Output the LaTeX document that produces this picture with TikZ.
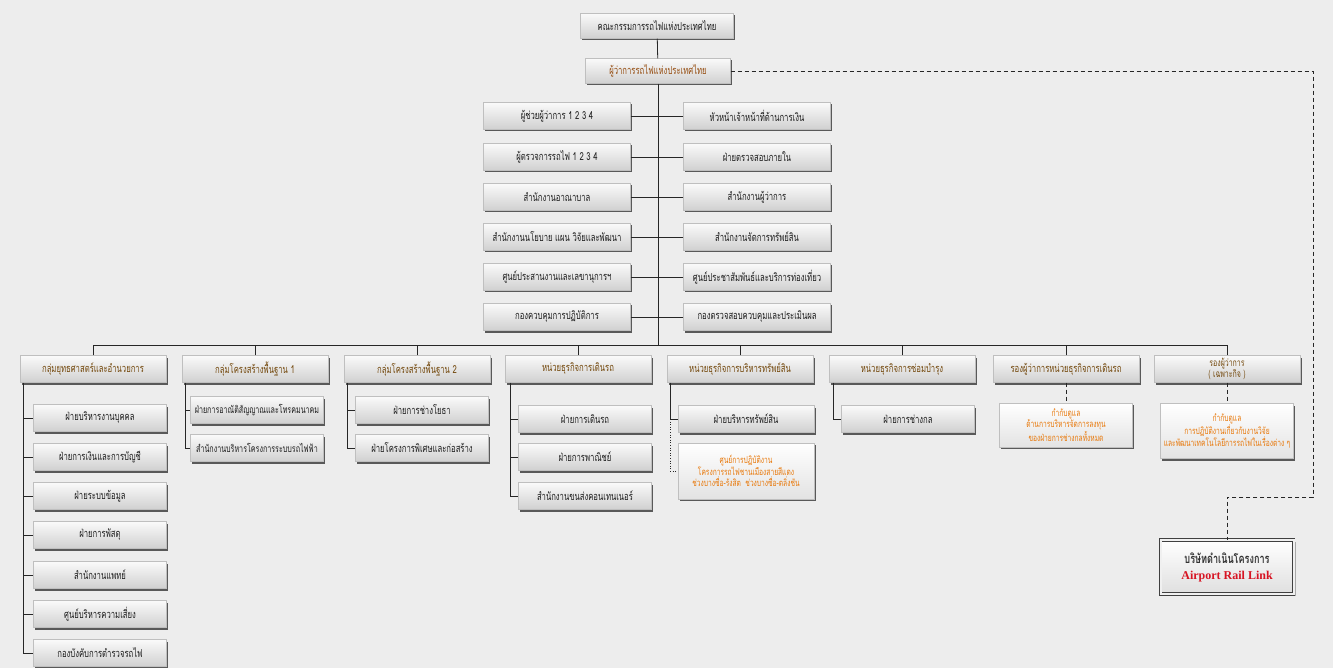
\documentclass[tikz,border=0pt]{standalone}
\usepackage{fontspec}
\newfontfamily\thaifont[Script=Thai,FakeStretch=0.7]{Loma}
\newfontfamily\enserif{Liberation Serif}
\usetikzlibrary{shadows}
\definecolor{bg}{RGB}{237,237,237}
\definecolor{headtxt}{RGB}{115,72,12}
\definecolor{govtxt}{RGB}{150,78,18}
\definecolor{orgtxt}{RGB}{232,120,10}
\definecolor{redtxt}{RGB}{215,20,35}
\definecolor{boxtop}{RGB}{250,250,250}
\definecolor{boxbot}{RGB}{208,208,208}
\tikzset{
  unit/.style={draw=gray!50, line width=0.4pt, top color=boxtop, bottom color=boxbot,
    drop shadow={shadow xshift=1.8pt, shadow yshift=-2pt, fill=black!75, opacity=0.85},
    minimum height=27pt, inner sep=1pt, text=black!88, align=center,
    font=\thaifont\fontsize{11}{12}\selectfont},
  topbox/.style={unit, minimum width=153pt, minimum height=25pt},
  mid/.style={unit, minimum width=147pt},
  head/.style={unit, minimum width=146pt, text=headtxt},
  sub/.style={unit, minimum width=133pt},
  note/.style={unit, minimum width=133pt, text=orgtxt, top color=white, bottom color=gray!22,
    font=\thaifont\fontsize{9.5}{11}\selectfont},
  link/.style={line width=0.8pt, draw=black!85},
  dlink/.style={link, dash pattern=on 4pt off 3pt},
  dotlink/.style={link, dash pattern=on 1pt off 1.6pt},
}
\begin{document}
\begin{tikzpicture}[x=1pt,y=-1pt]
\fill[bg] (0,0) rectangle (1333,668);
\useasboundingbox (0,0) rectangle (1333,668);

% top
\node[topbox] (board) at (657,26) {คณะกรรมการรถไฟแห่งประเทศไทย};
\node[topbox, minimum width=145pt, text=govtxt] (gov) at (658,71) {ผู้ว่าการรถไฟแห่งประเทศไทย};
\coordinate (bus) at (658,345);

% middle columns
\node[mid] (L1) at (557,116) {ผู้ช่วยผู้ว่าการ 1 2 3 4};
\node[mid] (L2) at (557,157) {ผู้ตรวจการรถไฟ 1 2 3 4};
\node[mid] (L3) at (557,197) {สำนักงานอาณาบาล};
\node[mid] (L4) at (557,237) {สำนักงานนโยบาย แผน วิจัยและพัฒนา};
\node[mid] (L5) at (557,277) {ศูนย์ประสานงานและเลขานุการฯ};
\node[mid] (L6) at (557,317) {กองควบคุมการปฏิบัติการ};
\node[mid] (R1) at (757,116) {หัวหน้าเจ้าหน้าที่ด้านการเงิน};
\node[mid] (R2) at (757,157) {ฝ่ายตรวจสอบภายใน};
\node[mid] (R3) at (757,197) {สำนักงานผู้ว่าการ};
\node[mid] (R4) at (757,237) {สำนักงานจัดการทรัพย์สิน};
\node[mid] (R5) at (757,277) {ศูนย์ประชาสัมพันธ์และบริการท่องเที่ยว};
\node[mid] (R6) at (757,317) {กองตรวจสอบควบคุมและประเมินผล};

% heads
\node[head] (h1) at (93,369) {กลุ่มยุทธศาสตร์และอำนวยการ};
\node[head] (h2) at (255,369) {กลุ่มโครงสร้างพื้นฐาน 1};
\node[head] (h3) at (417,369) {กลุ่มโครงสร้างพื้นฐาน 2};
\node[head] (h4) at (578,369) {หน่วยธุรกิจการเดินรถ};
\node[head] (h5) at (740,369) {หน่วยธุรกิจการบริหารทรัพย์สิน};
\node[head] (h6) at (902,369) {หน่วยธุรกิจการซ่อมบำรุง};
\node[head] (h7) at (1066,369) {รองผู้ว่าการหน่วยธุรกิจการเดินรถ};
\node[head, font=\thaifont\fontsize{10}{10.5}\selectfont] (h8) at (1227,369) {รองผู้ว่าการ\\( เฉพาะกิจ )};

% column 1
\coordinate (v1) at (23,0);
\node[sub] (c11) at (100,418) {ฝ่ายบริหารงานบุคคล};
\node[sub] (c12) at (100,457) {ฝ่ายการเงินและการบัญชี};
\node[sub] (c13) at (100,496) {ฝ่ายระบบข้อมูล};
\node[sub] (c14) at (100,535) {ฝ่ายการพัสดุ};
\node[sub] (c15) at (100,575) {สำนักงานแพทย์};
\node[sub] (c16) at (100,614) {ศูนย์บริหารความเสี่ยง};
\node[sub] (c17) at (100,653) {กองบังคับการตำรวจรถไฟ};
% column 2
\coordinate (v2) at (185,0);
\node[sub, font=\thaifont\fontsize{10.2}{12}\selectfont] (c21) at (257,410) {ฝ่ายการอาณัติสัญญาณและโทรคมนาคม};
\node[sub, font=\thaifont\fontsize{10.2}{12}\selectfont] (c22) at (257,448) {สำนักงานบริหารโครงการระบบรถไฟฟ้า};
% column 3
\coordinate (v3) at (347,0);
\node[sub] (c31) at (422,410) {ฝ่ายการช่างโยธา};
\node[sub] (c32) at (422,448) {ฝ่ายโครงการพิเศษและก่อสร้าง};
% column 4
\coordinate (v4) at (510,0);
\node[sub] (c41) at (585,419) {ฝ่ายการเดินรถ};
\node[sub] (c42) at (585,457) {ฝ่ายการพาณิชย์};
\node[sub] (c43) at (585,496) {สำนักงานขนส่งคอนเทนเนอร์};
% column 5
\coordinate (v5) at (670,0);
\node[sub, minimum width=136pt] (c51) at (746,419) {ฝ่ายบริหารทรัพย์สิน};
\node[note, minimum width=136pt, minimum height=56pt] (n5) at (746,471) {ศูนย์การปฏิบัติงาน\\โครงการรถไฟชานเมืองสายสีแดง\\ช่วงบางซื่อ-รังสิต~~ช่วงบางซื่อ-ตลิ่งชัน};
% column 6
\coordinate (v6) at (833,0);
\node[sub] (c61) at (908,419) {ฝ่ายการช่างกล};
% column 7, 8
\node[note, minimum height=44pt] (n7) at (1066,425) {กำกับดูแล\\ด้านการบริหารจัดการลงทุน\\ของฝ่ายการช่างกลทั้งหมด};
\node[note, minimum height=55pt] (n8) at (1227,431) {กำกับดูแล\\การปฏิบัติงานเกี่ยวกับงานวิจัย\\และพัฒนาเทคโนโลยีการรถไฟในเรื่องต่าง ๆ};

% airport rail link
\node[draw=black!75, line width=0.6pt, double=gray!12, double distance=2pt,
  top color=white, bottom color=gray!25,
  drop shadow={shadow xshift=2pt, shadow yshift=-2pt, fill=black!60},
  minimum width=133pt, minimum height=54pt, align=center, inner sep=1pt] (arl) at (1227,567)
  {{\thaifont\bfseries\fontsize{13}{15}\selectfont\color{black!80}บริษัทดำเนินโครงการ}\\[4pt]
   {\enserif\bfseries\fontsize{12}{14}\selectfont\color{redtxt}Airport Rail Link}};

% connectors
\draw[link] (board) -- (gov);
\draw[link] (gov) -- (bus);
\foreach \n in {L1,L2,L3,L4,L5,L6} \draw[link] (\n.east) -- (\n.east -| bus);
\foreach \n in {R1,R2,R3,R4,R5,R6} \draw[link] (\n.west) -- (\n.west -| bus);
\draw[link] (h1.north |- bus) -- (h8.north |- bus);
\foreach \n in {h1,h2,h3,h4,h5,h6,h7,h8} \draw[link] (\n.north) -- (\n.north |- bus);

\draw[link] (h1.south -| v1) -- (c17.west -| v1) -- (c17.west);
\foreach \n in {c11,c12,c13,c14,c15,c16} \draw[link] (\n.west -| v1) -- (\n.west);
\draw[link] (h2.south -| v2) -- (c22.west -| v2) -- (c22.west);
\draw[link] (c21.west -| v2) -- (c21.west);
\draw[link] (h3.south -| v3) -- (c32.west -| v3) -- (c32.west);
\draw[link] (c31.west -| v3) -- (c31.west);
\draw[link] (h4.south -| v4) -- (c43.west -| v4) -- (c43.west);
\draw[link] (c41.west -| v4) -- (c41.west);
\draw[link] (c42.west -| v4) -- (c42.west);
\draw[link] (h5.south -| v5) -- (c51.west -| v5) -- (c51.west);
\draw[dotlink] (c51.west -| v5) -- (n5.west -| v5) -- (n5.west);
\draw[link] (h6.south -| v6) -- (c61.west -| v6) -- (c61.west);
\draw[dlink] (h7.south) -- (n7.north);
\draw[dlink] (h8.south) -- (n8.north);

\coordinate (d2) at (1313,497);
\draw[dlink] (gov.east) -| (d2) -- (arl.north |- d2) -- (arl.north);
\end{tikzpicture}
\end{document}
